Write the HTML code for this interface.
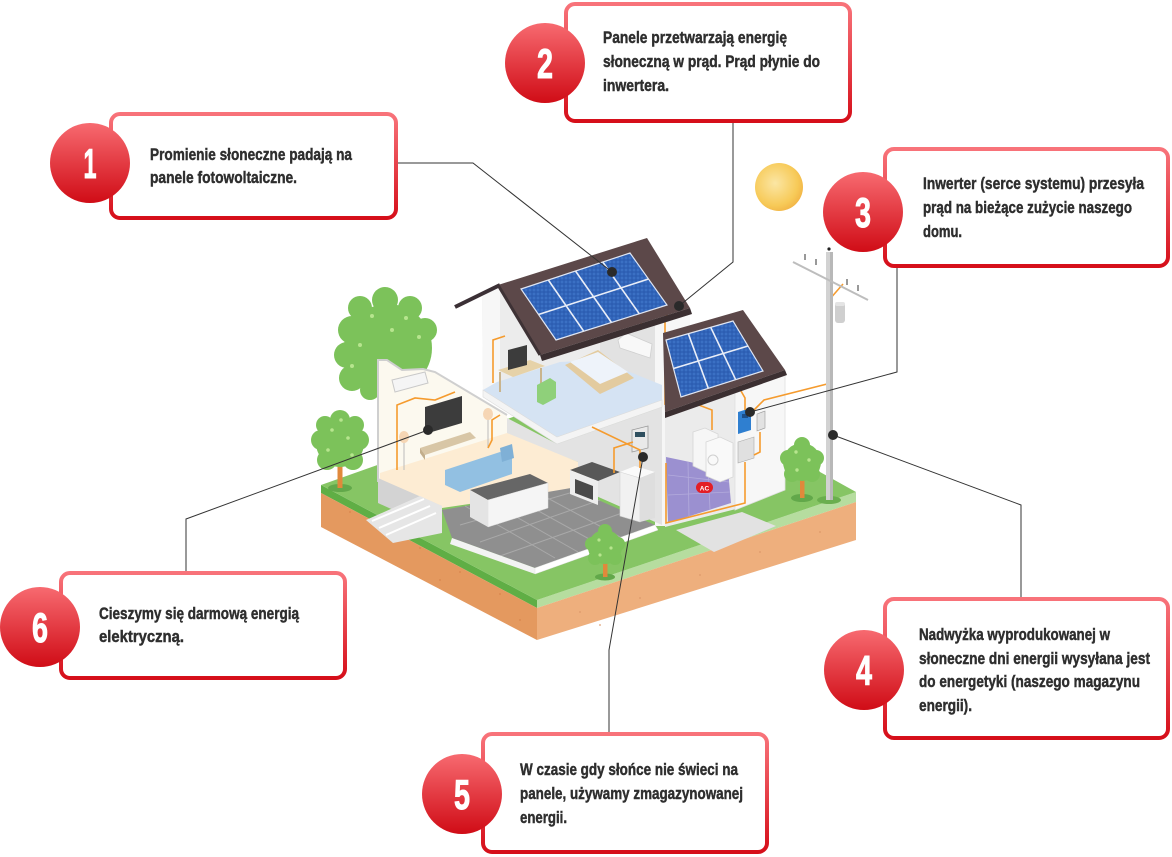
<!DOCTYPE html>
<html><head><meta charset="utf-8">
<style>html,body{margin:0;padding:0;background:#fff;width:1172px;height:857px;overflow:hidden}svg{display:block}</style>
</head><body>
<svg width="1172" height="857" viewBox="0 0 1172 857" xmlns="http://www.w3.org/2000/svg">
<defs>
 <linearGradient id="bg" x1="0" y1="0" x2="0" y2="1"><stop offset="0" stop-color="#f8737a"/><stop offset="1" stop-color="#d60f1a"/></linearGradient>
 <linearGradient id="cg" x1="0" y1="0" x2="0" y2="1"><stop offset="0" stop-color="#f76a70"/><stop offset="1" stop-color="#d00c16"/></linearGradient>
 <radialGradient id="sun" cx="0.42" cy="0.42" r="0.62"><stop offset="0" stop-color="#fbe6a4"/><stop offset="0.75" stop-color="#f7ca58"/><stop offset="1" stop-color="#f2b546"/></radialGradient>
 <pattern id="cells" width="4" height="4" patternUnits="userSpaceOnUse"><rect width="4" height="4" fill="#2a5bb0"/><rect x="0.6" y="0.6" width="2.8" height="2.8" fill="#3b70c4"/></pattern>
</defs>
<rect width="1172" height="857" fill="#fff"/>

<!-- sun -->
<circle cx="779" cy="187" r="24" fill="url(#sun)"/>

<!-- back big tree -->
<g fill="#7cc25a">
 <circle cx="388" cy="348" r="44"/>
 <circle cx="352" cy="330" r="14"/><circle cx="360" cy="308" r="12"/><circle cx="385" cy="300" r="13"/><circle cx="410" cy="308" r="12"/><circle cx="425" cy="330" r="12"/>
 <circle cx="347" cy="355" r="13"/><circle cx="352" cy="378" r="13"/><circle cx="370" cy="390" r="10"/>
</g>
<g fill="#b7e58e"><circle cx="372" cy="316" r="2"/><circle cx="392" cy="330" r="2"/><circle cx="360" cy="345" r="2"/><circle cx="406" cy="318" r="2"/><circle cx="352" cy="366" r="2"/><circle cx="419" cy="337" r="2"/></g>

<!-- ground block -->
<polygon points="321,485 537,600 537,608 321,493" fill="#5fae45"/>
<polygon points="321,493 537,608 537,640 321,527" fill="#e4995f"/>
<polygon points="537,600 856,492 856,502 537,608" fill="#b6dd9f"/>
<polygon points="537,608 856,502 856,540 537,640" fill="#eeaf7d"/>
<polygon points="321,485 640,372 856,492 537,600" fill="#86c564"/>
<g fill="#d7834c" opacity="0.7"><circle cx="350" cy="512" r="1"/><circle cx="380" cy="530" r="1"/><circle cx="420" cy="548" r="1"/><circle cx="460" cy="572" r="1"/><circle cx="500" cy="594" r="1"/><circle cx="520" cy="620" r="1"/><circle cx="440" cy="580" r="1"/></g>
<g fill="#dc9868" opacity="0.7"><circle cx="580" cy="612" r="1"/><circle cx="640" cy="598" r="1"/><circle cx="700" cy="575" r="1"/><circle cx="760" cy="552" r="1"/><circle cx="820" cy="532" r="1"/><circle cx="600" cy="625" r="1"/></g>
<!-- walkway -->
<polygon points="676,530 742,512 776,526 714,552" fill="#e2e2e2"/>

<!-- left small tree -->
<ellipse cx="340" cy="488" rx="12" ry="4" fill="#62a84a"/>
<rect x="337.5" y="462" width="5" height="26" fill="#e0893b"/>
<g fill="#7cc25a">
 <circle cx="340" cy="443" r="24"/><circle cx="321" cy="440" r="10"/><circle cx="359" cy="440" r="10"/><circle cx="340" cy="420" r="10"/><circle cx="327" cy="460" r="10"/><circle cx="353" cy="460" r="10"/><circle cx="325" cy="425" r="9"/><circle cx="355" cy="425" r="9"/>
</g>
<g fill="#b7e58e"><circle cx="332" cy="430" r="1.8"/><circle cx="348" cy="438" r="1.8"/><circle cx="328" cy="450" r="1.8"/><circle cx="352" cy="455" r="1.8"/><circle cx="341" cy="420" r="1.8"/></g>

<!-- main building upper back walls -->
<polygon points="482,297 498,287 647,238 690,308 690,330 662,338 662,400 557,437 483,395" fill="#ececec"/>
<polygon points="482,297 500,287 500,392 483,392" fill="#f7f7f7"/>
<polygon points="600,300 662,320 662,385 600,362" fill="#e2e2e2"/>
<!-- main side wall -->
<rect x="655" y="310" width="11" height="216" fill="#f6f6f6"/>
<polygon points="662,315 690,308 690,330 664,336" fill="#f7f7f7"/>

<!-- lower main back wall -->
<polygon points="507,418 557,444 662,407 662,525 578,488 578,462 507,435" fill="#e3e3e3"/>

<!-- left wing wall -->
<polygon points="378,360 387,360 402,370 423,369 435,372 507,415 507,440 380,482 378,482" fill="#fcf9ef"/>
<polyline points="378,482 378,360 387,360 402,370 423,369 435,372 507,415" fill="none" stroke="#cfcfcf" stroke-width="2"/>
<!-- cream floor -->
<polygon points="380,473 507,433 578,462 578,488 442,508 380,480" fill="#fdecd3"/>
<!-- porch grey -->
<polygon points="378,478 442,506 442,532 378,503" fill="#d3d3d3"/>
<!-- stairs -->
<polygon points="366,520 420,496 442,506 442,533 393,543" fill="#e6e6e6"/>
<g stroke="#ffffff" stroke-width="2"><line x1="372" y1="521" x2="424" y2="499"/><line x1="379" y1="528" x2="430" y2="506"/><line x1="386" y1="535" x2="436" y2="513"/></g>

<!-- kitchen floor -->
<polygon points="442,510 571,488 655,525 535,568 452,538" fill="#8f8f8f"/>
<g stroke="#a9a9a9" stroke-width="1">
 <line x1="465" y1="506" x2="555" y2="558"/><line x1="490" y1="502" x2="578" y2="552"/><line x1="515" y1="498" x2="600" y2="545"/><line x1="540" y1="494" x2="622" y2="538"/>
 <line x1="460" y1="525" x2="580" y2="490"/><line x1="480" y1="542" x2="600" y2="500"/><line x1="500" y1="556" x2="625" y2="512"/>
</g>
<polygon points="452,538 535,568 535,574 450,544" fill="#f3f3f3"/>
<polygon points="535,568 655,525 658,530 535,574" fill="#ffffff" stroke="#e3e3e3" stroke-width="0.5"/>

<!-- living room furniture -->
<polygon points="392,380 425,372 428,383 395,392" fill="#f5f5f5" stroke="#c9c9c9" stroke-width="1"/>
<polygon points="425,407 462,396 462,423 425,434" fill="#3c3c3c"/>
<polygon points="420,448 470,432 476,438 425,455" fill="#d8c6a6"/>
<polygon points="420,448 425,455 425,460 420,453" fill="#c2ae8c"/>
<polygon points="445,470 500,452 512,458 512,474 460,492 445,485" fill="#92c0e2"/>
<polygon points="500,448 512,444 514,458 502,462" fill="#7fb0d6"/>
<line x1="488" y1="418" x2="488" y2="448" stroke="#bbb" stroke-width="1"/><ellipse cx="488" cy="414" rx="5" ry="6" fill="#f6d6b4"/>
<line x1="404" y1="440" x2="404" y2="470" stroke="#bbb" stroke-width="1"/><ellipse cx="404" cy="437" rx="5" ry="6" fill="#f6d6b4"/>

<!-- counter island -->
<polygon points="470,490 530,474 548,483 488,500" fill="#666"/>
<polygon points="488,500 548,483 548,508 488,527" fill="#f5f5f5" stroke="#ddd" stroke-width="0.5"/>
<polygon points="470,490 488,500 488,527 470,517" fill="#e4e4e4"/>
<!-- stove -->
<polygon points="570,470 592,462 620,472 598,481" fill="#585858"/>
<polygon points="570,470 598,481 598,505 570,494" fill="#eeeeee"/>
<polygon points="575,479 593,486 593,500 575,493" fill="#4a4a4a"/>
<!-- fridge -->
<polygon points="620,472 635,466 655,472 640,478" fill="#fafafa"/>
<polygon points="620,472 640,478 640,522 620,516" fill="#f1f1f1" stroke="#d5d5d5" stroke-width="0.6"/>
<polygon points="640,478 655,472 655,518 640,522" fill="#dedede"/>
<!-- electrical panel -->
<polygon points="632,430 648,426 648,448 632,452" fill="#e9e9e9" stroke="#999" stroke-width="0.8"/>
<rect x="635" y="432" width="10" height="5" fill="#2f4f5f"/>

<!-- upper floor -->
<polygon points="483,390 497,382 560,362 600,360 662,385 662,400 557,437" fill="#d5e3f3"/>
<polygon points="483,390 557,437 662,400 662,407 557,444 483,397" fill="#f4f4f4" stroke="#dcdcdc" stroke-width="0.6"/>
<!-- upper furniture -->
<polygon points="498,370 530,360 545,366 513,377" fill="#e6d2a8"/>
<line x1="500" y1="372" x2="500" y2="392" stroke="#c9b48d" stroke-width="2"/><line x1="541" y1="368" x2="541" y2="388" stroke="#c9b48d" stroke-width="2"/>
<polygon points="508,350 527,345 527,365 508,370" fill="#3c3c3c"/>
<polygon points="537,385 550,378 556,382 556,398 543,405 537,402" fill="#8fd07a"/>
<polygon points="565,365 598,350 634,378 600,394" fill="#e3cb9f"/>
<polygon points="570,362 598,352 628,372 600,384" fill="#eef3fa"/>
<polygon points="618,340 626,333 652,344 650,358 620,348" fill="#f8f8f8" stroke="#cfcfcf" stroke-width="0.8"/>

<!-- right wing -->
<polygon points="665,405 740,380 740,508 665,527" fill="#ebebeb"/>
<polygon points="735,380 770,368 785,372 785,490 735,510" fill="#f7f7f7" stroke="#e0e0e0" stroke-width="0.8"/>
<polygon points="666,457 728,470 731,503 668,523" fill="#9b90d0"/>
<g stroke="#b3abdc" stroke-width="0.8"><line x1="668" y1="475" x2="729" y2="482"/><line x1="668" y1="495" x2="730" y2="492"/><line x1="688" y1="462" x2="689" y2="516"/><line x1="708" y1="466" x2="710" y2="510"/></g>
<polygon points="693,432 705,428 718,434 718,468 706,472 693,466" fill="#f6f6f6" stroke="#d6d6d6" stroke-width="0.8"/>
<polygon points="706,442 720,437 733,443 733,477 720,482 706,476" fill="#f9f9f9" stroke="#d6d6d6" stroke-width="0.8"/>
<circle cx="713" cy="460" r="5" fill="none" stroke="#cfcfcf" stroke-width="1"/>
<rect x="696" y="482" width="17" height="11" rx="5.5" fill="#e31e26"/>
<text x="704.5" y="490.5" text-anchor="middle" font-family="'Liberation Sans', sans-serif" font-size="6.5" font-weight="700" fill="#fff">AC</text>
<!-- inverter & boxes -->
<polygon points="738,412 751,408 751,430 738,434" fill="#2f7fd0"/>
<rect x="742" y="414" width="6" height="4" fill="#1c4f8a"/>
<polygon points="757,414 765,411 765,428 757,431" fill="#e2e2e2" stroke="#999" stroke-width="0.6"/>
<polygon points="738,442 754,437 754,458 738,463" fill="#e0e0e0" stroke="#aaa" stroke-width="0.6"/>

<!-- wires -->
<g fill="none" stroke="#f59b2e" stroke-width="1.6">
 <path d="M658,283 L678,296 L665,318 L665,404 L737,384 L745,398 L745,410"/>
 <path d="M752,412 L764,400 L827,384 L829,300 L843,284"/>
 <path d="M666,463 L666,523 L745,503 L745,462"/>
 <path d="M760,432 L760,452 L754,455"/>
 <path d="M592,427 L640,450 L640,468"/>
 <path d="M614,473 L614,448 L633,442"/>
 <path d="M397,470 L397,405 L415,398 L435,400 L455,392"/>
 <path d="M493,383 L493,340 L505,336"/>
 <path d="M488,448 L492,440 L492,420 L500,415"/>
 <path d="M641,330 L641,316"/>
 <path d="M696,380 L696,404 L712,410 L712,430"/>
</g>

<!-- main roof -->
<line x1="455" y1="307" x2="500" y2="285" stroke="#3b3035" stroke-width="4"/>
<polygon points="498,285 647,238 690,308 540,355" fill="#5c4849"/>
<polygon points="540,355 690,308 692,314 542,361" fill="#3b2f31"/>
<line x1="498" y1="285" x2="540" y2="355" stroke="#3e3235" stroke-width="3"/>
<polygon points="521,289 630,253 667,305 556,340" fill="url(#cells)"/>
<g stroke="#e9eef8" stroke-width="1.6">
 <line x1="548.3" y1="280" x2="583.8" y2="331.3"/><line x1="575.5" y1="271" x2="611.5" y2="322.5"/><line x1="602.8" y1="262" x2="639.3" y2="313.8"/>
 <line x1="538.5" y1="314.5" x2="648.5" y2="279"/>
</g>
<polygon points="521,289 630,253 667,305 556,340" fill="none" stroke="#dfe6f3" stroke-width="1.2"/>

<!-- right roof -->
<polygon points="663,333 743,310 785,370 665,412" fill="#5c4849"/>
<polygon points="665,412 785,370 787,375 665,418" fill="#3b2f31"/>
<polygon points="666,340 733,321 763,371 681,397" fill="url(#cells)"/>
<g stroke="#e9eef8" stroke-width="1.6">
 <line x1="688.3" y1="333.7" x2="708.3" y2="388.3"/><line x1="710.7" y1="327.3" x2="735.7" y2="379.7"/>
 <line x1="673.5" y1="368.5" x2="748" y2="346"/>
</g>
<polygon points="666,340 733,321 763,371 681,397" fill="none" stroke="#dfe6f3" stroke-width="1.2"/>

<!-- pole -->
<ellipse cx="829" cy="500" rx="12" ry="4" fill="#6aae4e"/>
<rect x="826" y="252" width="7" height="248" fill="#d2d2d2"/>
<rect x="830" y="252" width="3" height="248" fill="#b8b8b8"/>
<circle cx="829" cy="249" r="1.6" fill="#222"/>
<line x1="793" y1="262" x2="868" y2="300" stroke="#bdbdbd" stroke-width="2"/>
<g fill="#999"><rect x="804" y="254" width="2" height="6"/><rect x="815" y="259" width="2" height="6"/><rect x="846" y="279" width="2" height="6"/><rect x="857" y="285" width="2" height="6"/></g>
<rect x="835" y="302" width="10" height="21" rx="3" fill="#cfcfcf"/>
<rect x="835" y="302" width="10" height="4" rx="2" fill="#e4e4e4"/>

<!-- right tree -->
<ellipse cx="802" cy="498" rx="11" ry="4" fill="#62a84a"/>
<rect x="800" y="476" width="4.5" height="22" fill="#e0893b"/>
<g fill="#7cc25a"><circle cx="802" cy="462" r="19"/><circle cx="788" cy="458" r="8"/><circle cx="816" cy="458" r="8"/><circle cx="802" cy="445" r="8"/><circle cx="792" cy="474" r="8"/><circle cx="812" cy="474" r="8"/></g>
<g fill="#b7e58e"><circle cx="796" cy="452" r="1.7"/><circle cx="809" cy="460" r="1.7"/><circle cx="797" cy="470" r="1.7"/></g>

<!-- front tree -->
<ellipse cx="605" cy="577" rx="10" ry="3.5" fill="#62a84a"/>
<rect x="603" y="558" width="4.5" height="19" fill="#e0893b"/>
<g fill="#7cc25a"><circle cx="605" cy="547" r="17"/><circle cx="592" cy="544" r="7"/><circle cx="618" cy="544" r="7"/><circle cx="605" cy="531" r="7"/><circle cx="595" cy="558" r="7"/><circle cx="615" cy="558" r="7"/></g>
<g fill="#b7e58e"><circle cx="599" cy="540" r="1.6"/><circle cx="611" cy="548" r="1.6"/><circle cx="600" cy="555" r="1.6"/></g>

<!-- connectors -->
<g fill="none" stroke="#333" stroke-width="1">
 <polyline points="398,163 473,163 612,272"/>
 <polyline points="733,123 733,262 679,306"/>
 <polyline points="897,268 897,372 750,412"/>
 <polyline points="1021,597 1021,505 833,435"/>
 <polyline points="609,732 609,650 643,457"/>
 <polyline points="186,571 186,519 428,430"/>
</g>
<g fill="#2a2a2a">
 <circle cx="612" cy="272" r="5"/><circle cx="679" cy="306" r="5"/><circle cx="750" cy="412" r="5"/>
 <circle cx="833" cy="435" r="5"/><circle cx="643" cy="457" r="5"/><circle cx="428" cy="430" r="5"/>
</g>

<!-- boxes -->
<g fill="#fff" stroke="url(#bg)" stroke-width="4">
 <rect x="111" y="114" width="285" height="104" rx="9"/>
 <rect x="566" y="4" width="284" height="117" rx="9"/>
 <rect x="885" y="149" width="283" height="117" rx="9"/>
 <rect x="61" y="573" width="284" height="105" rx="9"/>
 <rect x="885" y="599" width="283" height="139" rx="9"/>
 <rect x="483" y="734" width="284" height="118" rx="9"/>
</g>
<g fill="url(#cg)">
 <circle cx="90" cy="163" r="40"/>
 <circle cx="545" cy="63" r="40"/>
 <circle cx="863" cy="212" r="40"/>
 <circle cx="40" cy="627" r="40"/>
 <circle cx="864" cy="670" r="40"/>
 <circle cx="462" cy="794" r="40"/>
</g>
<g font-family="'Liberation Sans', sans-serif" font-weight="700" font-size="42" fill="#fff" stroke="#fff" stroke-width="1" text-anchor="middle">
 <text x="90" y="178" textLength="13" lengthAdjust="spacingAndGlyphs">1</text>
 <text x="545" y="78" textLength="16" lengthAdjust="spacingAndGlyphs">2</text>
 <text x="863" y="227" textLength="16" lengthAdjust="spacingAndGlyphs">3</text>
 <text x="40" y="642" textLength="16" lengthAdjust="spacingAndGlyphs">6</text>
 <text x="864" y="685" textLength="16" lengthAdjust="spacingAndGlyphs">4</text>
 <text x="462" y="809" textLength="16" lengthAdjust="spacingAndGlyphs">5</text>
</g>
<g font-family="'Liberation Sans', sans-serif" font-weight="700" font-size="17" fill="#2e2e2e" stroke="#2e2e2e" stroke-width="0.45">
 <text x="150" y="160" textLength="202" lengthAdjust="spacingAndGlyphs">Promienie słoneczne padają na</text>
 <text x="150" y="183" textLength="147" lengthAdjust="spacingAndGlyphs">panele fotowoltaiczne.</text>

 <text x="603" y="43" textLength="184" lengthAdjust="spacingAndGlyphs">Panele przetwarzają energię</text>
 <text x="603" y="67" textLength="217" lengthAdjust="spacingAndGlyphs">słoneczną w prąd. Prąd płynie do</text>
 <text x="603" y="91" textLength="66" lengthAdjust="spacingAndGlyphs">inwertera.</text>

 <text x="923" y="189" textLength="221" lengthAdjust="spacingAndGlyphs">Inwerter (serce systemu) przesyła</text>
 <text x="923" y="213" textLength="209" lengthAdjust="spacingAndGlyphs">prąd na bieżące zużycie naszego</text>
 <text x="923" y="237" textLength="39" lengthAdjust="spacingAndGlyphs">domu.</text>

 <text x="99" y="619" textLength="200" lengthAdjust="spacingAndGlyphs">Cieszymy się darmową energią</text>
 <text x="99" y="642" textLength="85" lengthAdjust="spacingAndGlyphs">elektryczną.</text>

 <text x="919" y="640" textLength="191" lengthAdjust="spacingAndGlyphs">Nadwyżka wyprodukowanej w</text>
 <text x="919" y="664" textLength="231" lengthAdjust="spacingAndGlyphs">słoneczne dni energii wysyłana jest</text>
 <text x="919" y="687" textLength="221" lengthAdjust="spacingAndGlyphs">do energetyki (naszego magazynu</text>
 <text x="919" y="711" textLength="53" lengthAdjust="spacingAndGlyphs">energii).</text>

 <text x="520" y="775" textLength="218" lengthAdjust="spacingAndGlyphs">W czasie gdy słońce nie świeci na</text>
 <text x="520" y="799" textLength="223" lengthAdjust="spacingAndGlyphs">panele, używamy zmagazynowanej</text>
 <text x="520" y="823" textLength="47" lengthAdjust="spacingAndGlyphs">energii.</text>
</g>
</svg>
</body></html>
